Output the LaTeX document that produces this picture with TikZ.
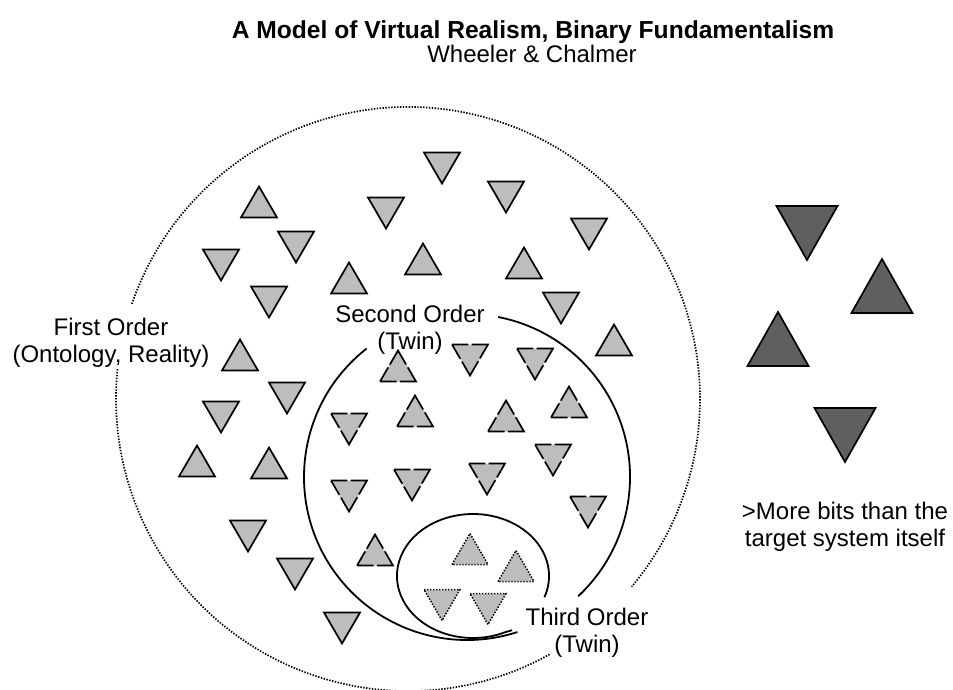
\documentclass[tikz,border=0pt]{standalone}
\usepackage{fontspec}
\setmainfont{Liberation Sans}
\definecolor{trilight}{HTML}{BDBDBD}
\definecolor{tridark}{HTML}{5F5F5F}
\begin{document}
\begin{tikzpicture}[x=1pt,y=-1pt,
  tri/.style={draw=black, fill=trilight, line width=1.7pt, line join=miter},
  tridash/.style={tri, dash pattern=on 16.3pt off 3.2pt on 16.3pt off 0.01pt},
  tridot/.style={tri, line width=1.5pt, dash pattern=on 1.4pt off 1.6pt},
  tridk/.style={draw=black, fill=tridark, line width=1.7pt, line join=miter},
  outer/.style={draw=black, line width=1.7pt, dash pattern=on 1.4pt off 1.5pt},
  spiral/.style={draw=black, line width=1.8pt},
  lbl/.style={font=\fontsize{24}{27}\selectfont, align=center, inner sep=0pt, anchor=base},
]
\useasboundingbox (0,0) rectangle (953,689);
\fill[white] (0,0) rectangle (953,689);

% title
\node[lbl, font=\fontsize{24.6}{27}\selectfont\bfseries] (title) at (533,38) {A Model of Virtual Realism, Binary Fundamentalism};
\node[lbl] (subtitle) at (532,62) {Wheeler \& Chalmer};

% outer dotted circle (first order)
\coordinate (c1) at (408,399);
\draw[outer] (c1) ++(61:292) arc[start angle=61, end angle=186, radius=292];
\draw[outer] (c1) ++(199:292) arc[start angle=199, end angle=400, radius=292];

% second order spiral
\coordinate (c2) at (467,477);
\draw[spiral] (c2) ++(232:163) arc[start angle=232, end angle=72, radius=163];
\draw[spiral] (c2) ++(-79:163) arc[start angle=-79, end angle=47, radius=163];

% third order ellipse
\coordinate (c3) at (473,576);
\draw[spiral] (c3) ++(20:76 and 62) arc[start angle=20, end angle=-295, x radius=76, y radius=62] -- ++(7,-2);

% first order triangles (solid)
\foreach \x/\y in {259/202, 349/278, 423/259, 524/263, 614/340, 240/355, 197/461, 269/463}
  \draw[tri] (\x-18,\y+15.5) -- (\x,\y-15.5) -- (\x+18,\y+15.5) -- cycle;
\foreach \x/\y in {296/247, 221/265, 269/302, 386/213, 442/168, 506/197, 589/234, 561/308, 287/398, 221/417, 248/536, 295/574, 342/628}
  \draw[tri] (\x-18,\y-15.5) -- (\x+18,\y-15.5) -- (\x,\y+15.5) -- cycle;

% second order triangles (dashed)
\foreach \x/\y in {398/366, 415/411, 506/416, 569/402, 375/550}
  \draw[tridash] (\x-18,\y+15.5) -- (\x,\y-15.5) -- (\x+18,\y+15.5) -- cycle;
\foreach \x/\y in {470/360, 535/364, 349/429, 553/460, 349/496, 412/485, 487/479, 588/512}
  \draw[tridash] (\x-18,\y-15.5) -- (\x+18,\y-15.5) -- (\x,\y+15.5) -- cycle;

% third order triangles (dotted)
\foreach \x/\y in {470/549, 516/566}
  \draw[tridot] (\x-18,\y+15.5) -- (\x,\y-15.5) -- (\x+18,\y+15.5) -- cycle;
\foreach \x/\y in {442/605, 488/609}
  \draw[tridot] (\x-18,\y-15.5) -- (\x+18,\y-15.5) -- (\x,\y+15.5) -- cycle;

% dark triangles
\foreach \x/\y in {882/286, 778/339}
  \draw[tridk] (\x-30.5,\y+27) -- (\x,\y-27) -- (\x+30.5,\y+27) -- cycle;
\foreach \x/\y in {807/233, 845/435}
  \draw[tridk] (\x-30.5,\y-27) -- (\x+30.5,\y-27) -- (\x,\y+27) -- cycle;

% labels (base anchor = baseline of last line)
\node[lbl] (first) at (111,362) {First Order\\(Ontology, Reality)};
\node[lbl] (second) at (410,349) {Second Order\\(Twin)};
\node[lbl] (third) at (587,652) {Third Order\\(Twin)};
\node[lbl] (more) at (845,546) {>More bits than the\\target system itself};
\end{tikzpicture}
\end{document}
